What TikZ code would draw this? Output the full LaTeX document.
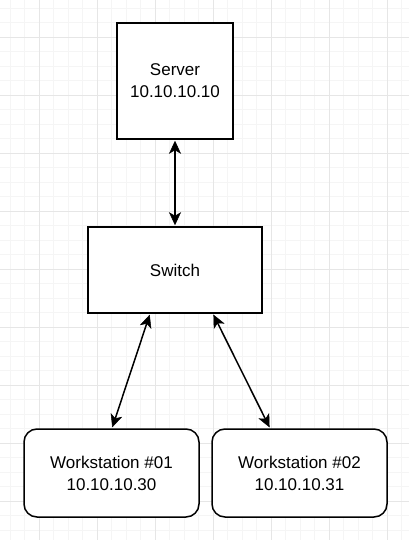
\documentclass[tikz,border=0pt]{standalone}
\usepackage{fontspec}
\setmainfont{Liberation Sans}
\usetikzlibrary{arrows.meta}
\definecolor{gridminor}{HTML}{F5F5F5}
\definecolor{gridmajor}{HTML}{E6E6E6}
\tikzset{
  box/.style={draw=black, line width=1.5pt, fill=white, align=center,
    font=\fontsize{17}{22}\selectfont, inner sep=0pt},
  rbox/.style={box, rounded corners=13pt},
  tipshape/.tip={Stealth[length=13pt,width=12pt,inset=3.5pt,line width=0.5pt]},
  link/.style={line width=1.5pt, tipshape-tipshape, shorten <=1pt, shorten >=1pt}
}
\begin{document}
\begin{tikzpicture}[x=1pt,y=-1pt]
\fill[white] (0,0) rectangle (409,540);
\useasboundingbox (0,0) rectangle (409,540);
% minor grid
\foreach \i in {0,...,28} {
  \draw[gridminor, line width=0.8pt] ({10+14.5*\i},0) -- ({10+14.5*\i},540);
}
\foreach \i in {0,...,37} {
  \draw[gridminor, line width=0.8pt] (0,{8+14.5*\i}) -- (409,{8+14.5*\i});
}
% major grid
\foreach \i in {0,...,6} {
  \draw[gridmajor, line width=0.9pt] ({39+58*\i},0) -- ({39+58*\i},540);
}
\foreach \i in {-1,...,8} {
  \draw[gridmajor, line width=0.9pt] (0,{37+58*\i}) -- (409,{37+58*\i});
}
\node[box, minimum width=116pt, minimum height=116pt] (server) at (175,81) {Server\\10.10.10.10};
\node[box, minimum width=174pt, minimum height=86pt] (switch) at (175,270) {Switch};
\node[rbox, minimum width=175pt, minimum height=88pt] (ws1) at (111.5,473) {Workstation \#01\\10.10.10.30};
\node[rbox, minimum width=175pt, minimum height=88pt] (ws2) at (299.5,473) {Workstation \#02\\10.10.10.31};
\draw[link] (server.south) -- (switch.north);
\draw[link] ([xshift=-25pt]switch.south) -- ([xshift=0.5pt]ws1.north);
\draw[link] ([xshift=38pt]switch.south) -- ([xshift=-29.5pt]ws2.north);
\end{tikzpicture}
\end{document}
